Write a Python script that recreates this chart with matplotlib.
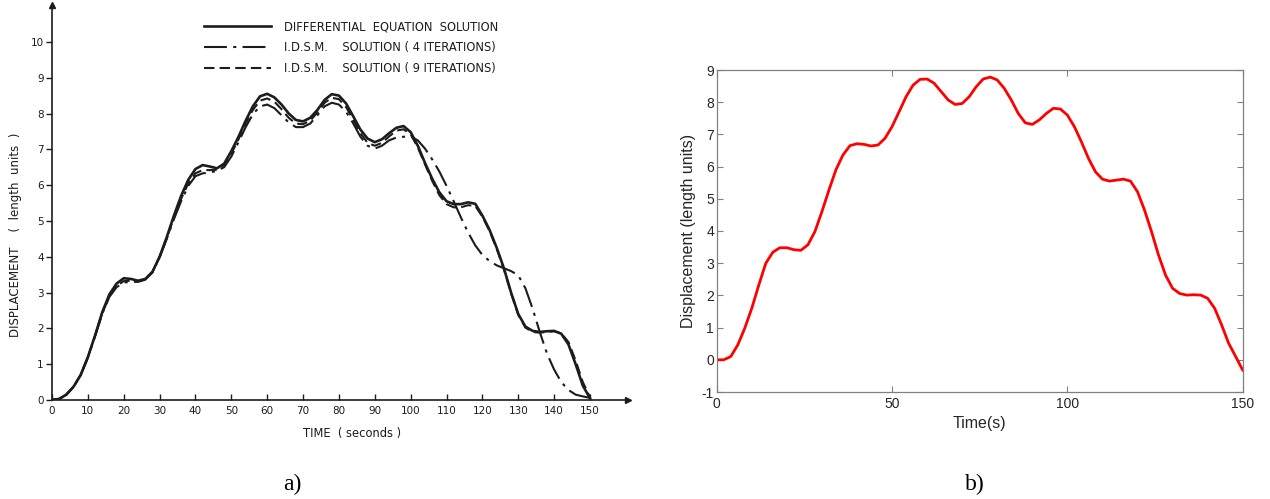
import matplotlib
matplotlib.use('agg')
import matplotlib.pyplot as plt

plt.rcParams['axes.unicode_minus'] = False

# ---------------------------------------------------------------
# Data
# ---------------------------------------------------------------
time = list(range(0, 151, 2))

# a) old scanned chart
diff_eq = [0.00, 0.03, 0.15, 0.37, 0.70, 1.20, 1.80, 2.45, 2.95, 3.25,
           3.40, 3.38, 3.33, 3.38, 3.58, 4.00, 4.55, 5.15, 5.70, 6.15,
           6.45, 6.56, 6.52, 6.47, 6.60, 6.95, 7.35, 7.80, 8.20, 8.48,
           8.55, 8.45, 8.25, 8.00, 7.82, 7.78, 7.88, 8.10, 8.38, 8.54,
           8.50, 8.28, 7.92, 7.55, 7.30, 7.20, 7.28, 7.45, 7.60, 7.65,
           7.48, 7.10, 6.62, 6.18, 5.80, 5.55, 5.47, 5.47, 5.52, 5.48,
           5.15, 4.75, 4.25, 3.68, 3.00, 2.40, 2.05, 1.93, 1.90, 1.92,
           1.93, 1.85, 1.55, 1.00, 0.40, 0.05]

idsm_4 = [0.00, 0.03, 0.15, 0.37, 0.70, 1.18, 1.78, 2.40, 2.88, 3.15,
          3.28, 3.30, 3.30, 3.36, 3.56, 3.98, 4.50, 5.05, 5.55, 5.98,
          6.25, 6.33, 6.35, 6.40, 6.50, 6.80, 7.20, 7.62, 7.98, 8.20,
          8.25, 8.15, 7.95, 7.75, 7.62, 7.62, 7.72, 7.95, 8.20, 8.30,
          8.25, 8.05, 7.72, 7.35, 7.10, 7.02, 7.10, 7.25, 7.33, 7.35,
          7.36, 7.25, 7.02, 6.72, 6.38, 5.98, 5.55, 5.10, 4.68, 4.32,
          4.05, 3.88, 3.76, 3.68, 3.60, 3.48, 3.12, 2.55, 1.90, 1.30,
          0.85, 0.50, 0.28, 0.15, 0.10, 0.06]

idsm_9 = [0.00, 0.03, 0.15, 0.37, 0.70, 1.19, 1.79, 2.42, 2.90, 3.18,
          3.32, 3.33, 3.31, 3.37, 3.57, 3.99, 4.52, 5.10, 5.62, 6.05,
          6.33, 6.42, 6.42, 6.43, 6.56, 6.88, 7.28, 7.72, 8.10, 8.36,
          8.42, 8.33, 8.12, 7.88, 7.72, 7.70, 7.80, 8.03, 8.30, 8.44,
          8.40, 8.18, 7.82, 7.45, 7.18, 7.10, 7.18, 7.36, 7.52, 7.56,
          7.42, 7.05, 6.58, 6.12, 5.72, 5.47, 5.38, 5.38, 5.44, 5.42,
          5.12, 4.72, 4.22, 3.65, 2.98, 2.38, 2.02, 1.90, 1.88, 1.90,
          1.92, 1.86, 1.62, 1.10, 0.50, 0.08]

# b) new simulation
simulated = [0.00, 0.00, 0.10, 0.46, 0.98, 1.60, 2.32, 3.00, 3.34, 3.48,
             3.48, 3.42, 3.40, 3.57, 3.98, 4.60, 5.27, 5.90, 6.36, 6.65,
             6.71, 6.69, 6.64, 6.67, 6.88, 7.24, 7.70, 8.17, 8.53, 8.71,
             8.72, 8.59, 8.33, 8.07, 7.93, 7.96, 8.17, 8.48, 8.72, 8.78,
             8.69, 8.43, 8.07, 7.65, 7.36, 7.31, 7.45, 7.65, 7.81, 7.79,
             7.60, 7.24, 6.77, 6.26, 5.84, 5.61, 5.55, 5.58, 5.61, 5.55,
             5.22, 4.65, 3.98, 3.25, 2.63, 2.22, 2.06, 2.01, 2.02, 2.01,
             1.91, 1.60, 1.08, 0.51, 0.10, -0.32]

legend_labels = ["DIFFERENTIAL  EQUATION  SOLUTION",
                 "I.D.S.M.    SOLUTION ( 4 ITERATIONS)",
                 "I.D.S.M.    SOLUTION ( 9 ITERATIONS)"]

W, H = 1270, 499
fig = plt.figure(figsize=(W / 100, H / 100), dpi=100)

# ---------------------------------------------------------------
# Panel a)
# ---------------------------------------------------------------
ink = '#1c1c1c'
axa = fig.add_axes([52 / W, 1 - 400 / H, 576 / W, 395 / H])
axa.plot(time, diff_eq, color=ink, lw=1.9, label=legend_labels[0])
axa.plot(time, idsm_4, color=ink, lw=1.5, dashes=(11, 3, 1.5, 3), label=legend_labels[1])
axa.plot(time, idsm_9, color=ink, lw=1.5, dashes=(5, 2.5), label=legend_labels[2])
axa.set_xlim(0, 160.6)
axa.set_ylim(0, 11.03)
for s in ['top', 'right']:
    axa.spines[s].set_visible(False)
for s in ['left', 'bottom']:
    axa.spines[s].set_color(ink)
    axa.spines[s].set_linewidth(1.2)
axa.plot(1, 0, '>', color=ink, ms=5, transform=axa.get_yaxis_transform(), clip_on=False)
axa.plot(0, 1, '^', color=ink, ms=5, transform=axa.get_xaxis_transform(), clip_on=False)
axa.set_xticks(range(0, 151, 10))
axa.set_yticks(range(0, 11))
axa.tick_params(axis='x', direction='in', length=4, width=1, colors=ink, labelsize=7.5, pad=4)
axa.tick_params(axis='y', direction='out', length=4, width=1, colors=ink, labelsize=7.5, pad=2)
axa.set_xlabel("TIME  ( seconds )", fontsize=8.3, color=ink)
axa.xaxis.set_label_coords(300 / 576, -27 / 395)
axa.set_ylabel("DISPLACEMENT    (  length  units  )", fontsize=8.5, color=ink)
axa.yaxis.set_label_coords(-30 / 576, 165 / 395)
axa.legend(loc='upper left', bbox_to_anchor=(152 / 576, 1 - 15 / 395), frameon=False,
           fontsize=8.3, handlelength=5.8, handletextpad=1.1, labelspacing=0.7,
           borderpad=0, borderaxespad=0, labelcolor=ink)

# ---------------------------------------------------------------
# Panel b)
# ---------------------------------------------------------------
grey = '#808080'
txt = '#262626'
axb = fig.add_axes([716.7 / W, 1 - 392 / H, 526 / W, 322 / H])
axb.plot(time, simulated, color='red', lw=2)
axb.set_xlim(0, 150)
axb.set_ylim(-1, 9)
axb.set_xticks([0, 50, 100, 150])
axb.set_yticks(range(-1, 10))
for s in axb.spines.values():
    s.set_color(grey)
    s.set_linewidth(0.9)
axb.tick_params(direction='in', length=4, width=0.8, color=grey, top=True, right=True,
                labelcolor=txt, labelsize=10)
axb.tick_params(axis='y', pad=2)
axb.set_xlabel("Time(s)", family='Liberation Sans', fontsize=11.5, color=txt, labelpad=4)
axb.set_ylabel("Displacement (length units)", family='Liberation Sans', fontsize=11.5,
               color=txt, labelpad=4)
for lab in axb.get_xticklabels() + axb.get_yticklabels():
    lab.set_family('Liberation Sans')

# panel captions
fig.text(292 / W, 1 - 484 / H, "a)", family='Liberation Serif', fontsize=17,
         ha='center', va='center')
fig.text(975 / W, 1 - 484 / H, "b)", family='Liberation Serif', fontsize=17,
         ha='center', va='center')

fig.savefig('out.png', dpi=100)
